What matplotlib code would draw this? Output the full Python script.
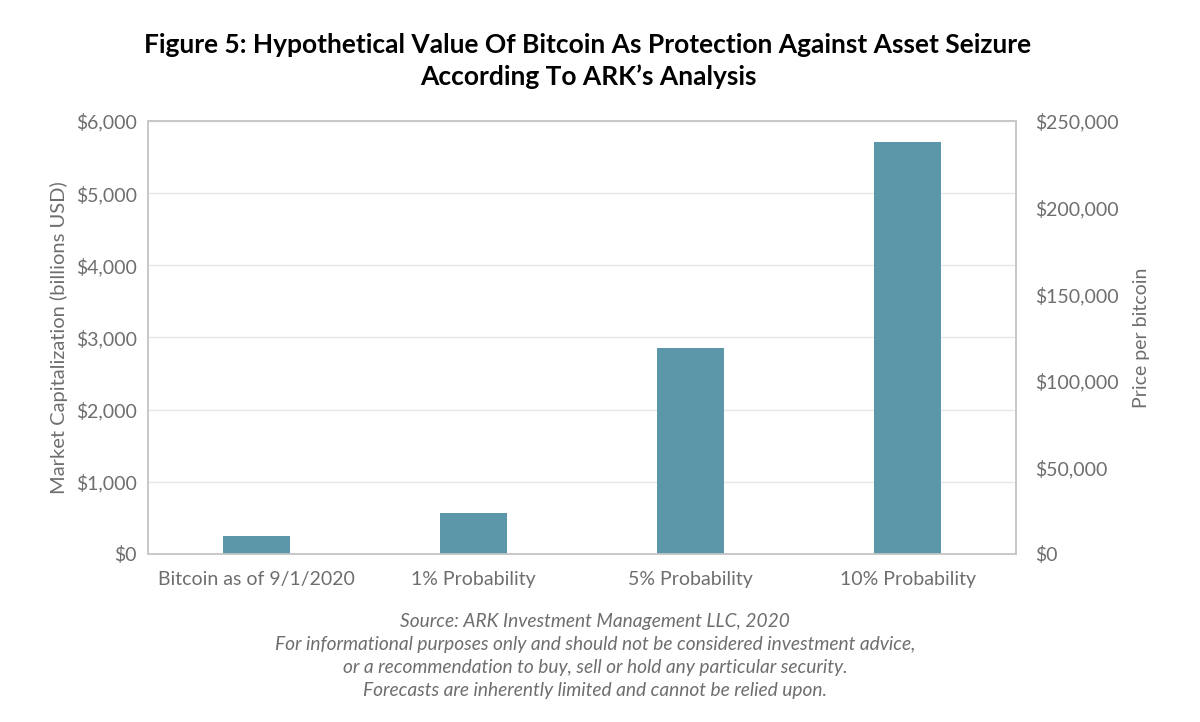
import numpy as np
import matplotlib.pyplot as plt
from matplotlib.ticker import FuncFormatter

plt.rcParams['font.family'] = ['Lato', 'DejaVu Sans']

categories = ['Bitcoin as of 9/1/2020', '1% Probability', '5% Probability', '10% Probability']
market_cap = [250, 570, 2850, 5710]  # billions USD
left_ticks = [0, 1000, 2000, 3000, 4000, 5000, 6000]
right_ticks = [0, 50000, 100000, 150000, 200000, 250000]

gray = '#6e6e6e'
bar_color = '#5b96a9'
edge = '#c8c8c8'

fig = plt.figure(figsize=(12, 7.22), dpi=100)
ax = fig.add_axes([0.1233, 0.2327, 0.7234, 0.5997])

x = np.arange(len(categories))
ax.bar(x, market_cap, width=0.31, color=bar_color, zorder=3)
ax.set_xlim(-0.5, len(categories) - 0.5)
ax.set_ylim(0, 6000)
ax.set_yticks(left_ticks)
ax.yaxis.set_major_formatter(FuncFormatter(lambda v, p: '${:,.0f}'.format(v)))
ax.set_xticks(x)
ax.set_xticklabels(categories)
ax.grid(axis='y', color='#e6e6e6', linewidth=1, zorder=0)
ax.set_ylabel('Market Capitalization (billions USD)', fontsize=14.5, color=gray, labelpad=6)
ax.tick_params(axis='both', length=0, labelsize=14, labelcolor=gray, pad=8)
ax.tick_params(axis='x', pad=12)

ax2 = ax.twinx()
ax2.set_ylim(0, 250000)
ax2.set_yticks(right_ticks)
ax2.yaxis.set_major_formatter(FuncFormatter(lambda v, p: '${:,.0f}'.format(v)))
ax2.tick_params(axis='y', length=0, labelsize=14, labelcolor=gray, pad=14)
ax2.set_ylabel('Price per bitcoin', fontsize=14, color=gray, labelpad=10)

for a in (ax, ax2):
    for s in a.spines.values():
        s.set_color(edge)
        s.set_linewidth(1.2)

fig.text(0.49, 0.916, "Figure 5: Hypothetical Value Of Bitcoin As Protection Against Asset Seizure\nAccording To ARK\u2019s Analysis",
         ha='center', va='center', fontsize=19, fontweight='bold', color='black', linespacing=1.35)

fig.text(0.496, 0.091,
         "Source: ARK Investment Management LLC, 2020\n"
         "For informational purposes only and should not be considered investment advice,\n"
         "or a recommendation to buy, sell or hold any particular security.\n"
         "Forecasts are inherently limited and cannot be relied upon.",
         ha='center', va='center', fontsize=13.8, style='italic', color=gray, linespacing=1.42)

fig.savefig('out.png', dpi=100, facecolor='white')
